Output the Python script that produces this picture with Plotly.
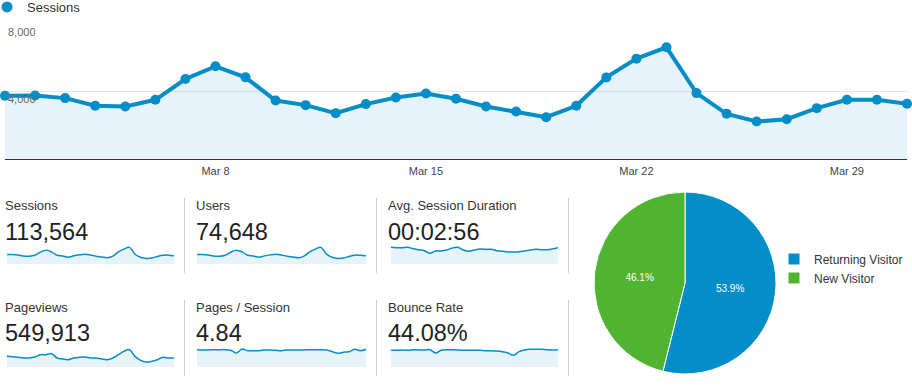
import pandas as pd
import plotly.graph_objects as go

W, H = 912, 388
FONT = "Arial, Liberation Sans, sans-serif"
BLUE = "#058dc7"
GREEN = "#50b432"

# ---------------- data ----------------
dates = pd.date_range("2015-03-01", "2015-03-31", freq="D")
sessions = [3761, 3779, 3622, 3164, 3124, 3522, 4758, 5512, 4856, 3480,
            3204, 2728, 3264, 3661, 3900, 3582, 3124, 2824, 2487, 3164,
            4854, 5970, 6645, 3920, 2687, 2228, 2368, 3025, 3522, 3522, 3284]
users = [2470, 2480, 2380, 2080, 2050, 2310, 3130, 3620, 3190, 2290,
         2100, 1790, 2140, 2400, 2560, 2350, 2050, 1860, 1630, 2080,
         3190, 3920, 4370, 2580, 1770, 1460, 1560, 1990, 2310, 2310, 2160]
pageviews = [19500, 19000, 17700, 16500, 16500, 18300, 22600, 22600, 24500, 16500,
             14700, 13400, 16500, 17700, 18300, 16500, 16500, 14700, 13400, 16500,
             22600, 28700, 31800, 19500, 12200, 9200, 10400, 13400, 17700, 16500, 16500]
pages_per_session = [4.84, 4.74, 4.74, 4.84, 4.84, 4.84, 4.65, 3.91, 5.02, 4.56,
                     4.56, 4.56, 4.74, 4.74, 4.65, 4.56, 4.74, 4.74, 4.74, 4.74,
                     4.84, 4.84, 4.84, 4.74, 4.28, 3.81, 4.09, 4.28, 4.93, 4.56, 4.93]
avg_duration = [205, 200, 200, 205, 188, 176, 164, 131, 160, 160,
                172, 196, 205, 172, 156, 172, 184, 180, 180, 164,
                156, 147, 147, 151, 160, 172, 180, 176, 176, 184, 200]
bounce_rate = [44.1, 44.1, 45.0, 44.1, 45.8, 45.0, 45.0, 45.8, 37.0, 44.1,
               45.8, 45.8, 45.0, 44.1, 44.1, 44.1, 44.1, 43.2, 43.2, 42.3,
               40.6, 37.0, 30.9, 40.6, 45.0, 46.7, 46.7, 46.7, 45.8, 45.0, 45.8]

y_tickvals = [4000, 8000]
y_ticktext = ["4,000", "8,000"]
x_tickvals = ["2015-03-08", "2015-03-15", "2015-03-22", "2015-03-29"]

metric_labels = ["Sessions", "Users", "Avg. Session Duration",
                 "Pageviews", "Pages / Session", "Bounce Rate"]
metric_values = ["113,564", "74,648", "00:02:56",
                 "549,913", "4.84", "44.08%"]
metric_series = [sessions, users, avg_duration,
                 pageviews, pages_per_session, bounce_rate]
metric_ymax = [8000, 5260, 246, 36700, 5.58, 52.9]

visitor_types = ["Returning Visitor", "New Visitor"]
visitor_share = [53.9, 46.1]

# ---------------- layout helpers (pixels -> paper) ----------------
def px(x):
    return x / W

def py(y):
    return 1 - y / H

fig = go.Figure()

# main sessions chart
fig.add_trace(go.Scatter(
    x=dates, y=sessions, mode="lines+markers", name="Sessions",
    line=dict(color=BLUE, width=4), marker=dict(color=BLUE, size=10),
    fill="tozeroy", fillcolor="rgba(5,141,199,0.10)",
    cliponaxis=False, showlegend=False, hoverinfo="x+y"))
# legend entry for the main chart
fig.add_trace(go.Scatter(
    x=[None], y=[None], mode="markers", name="Sessions",
    marker=dict(color=BLUE, size=11, symbol="circle"), legend="legend"))

layout = dict(
    width=W, height=H, margin=dict(l=0, r=0, t=0, b=0, pad=0, autoexpand=False),
    paper_bgcolor="white", plot_bgcolor="white",
    font=dict(family=FONT, color="#333"),
    xaxis=dict(domain=[px(5), px(907)], range=[dates[0], dates[-1]],
               showgrid=False, zeroline=False, showline=True,
               linecolor="#333", linewidth=1, ticks="",
               tickvals=x_tickvals, tickformat="%b %-d",
               tickfont=dict(size=11, color="#444"), ticklabelstandoff=2,
               fixedrange=True),
    yaxis=dict(domain=[py(159), py(24.5)], range=[0, 8000],
               tickvals=y_tickvals, ticktext=y_ticktext,
               showgrid=True, gridcolor="#e6e6e6", zeroline=False,
               ticklabelposition="inside bottom",
               tickfont=dict(size=11, color="#666"), fixedrange=True),
    legend=dict(x=-13 / W, y=py(7), xanchor="left", yanchor="middle",
                font=dict(size=13, color="#333"), bgcolor="rgba(0,0,0,0)"),
    legend2=dict(x=px(774), y=py(268.5), xanchor="left", yanchor="middle",
                 font=dict(size=12, color="#333"), bgcolor="rgba(0,0,0,0)",
                 tracegroupgap=0),
    showlegend=True,
)

# metric tiles
col_text_x = [3, 194, 386]
col_spark_x = [(7, 174), (197, 366), (391, 558)]
row_label_y = [205.5, 307.3]
row_value_y = [231.7, 333.3]
row_spark_y = [(244, 264), (347, 367)]

annotations = []
shapes = []
for i, (lab, val, ser, ymax) in enumerate(zip(metric_labels, metric_values,
                                              metric_series, metric_ymax)):
    r, c = divmod(i, 3)
    n = i + 2
    fig.add_trace(go.Scatter(
        x=dates, y=ser, mode="lines", line=dict(color=BLUE, width=1.5, shape="spline"),
        fill="tozeroy", fillcolor="rgba(5,141,199,0.10)", showlegend=False,
        xaxis=f"x{n}", yaxis=f"y{n}", hoverinfo="skip"))
    x0, x1 = col_spark_x[c]
    yt, yb = row_spark_y[r]
    layout[f"xaxis{n}"] = dict(domain=[px(x0), px(x1)], range=[dates[0], dates[-1]],
                               visible=False, anchor=f"y{n}", fixedrange=True)
    layout[f"yaxis{n}"] = dict(domain=[py(yb), py(yt)], range=[0, ymax],
                               visible=False, anchor=f"x{n}", fixedrange=True)
    annotations.append(dict(text=lab, x=px(col_text_x[c]), y=py(row_label_y[r]),
                            xref="paper", yref="paper", xanchor="left", yanchor="middle",
                            showarrow=False, font=dict(size=13, color="#333")))
    annotations.append(dict(text=val, x=px(col_text_x[c]), y=py(row_value_y[r]),
                            xref="paper", yref="paper", xanchor="left", yanchor="middle",
                            showarrow=False, font=dict(size=23.5, color="#222")))

# tile separators
for sx in [184.5, 376.5, 568.5]:
    for (sy0, sy1) in [(198, 273), (300, 376)]:
        shapes.append(dict(type="line", xref="paper", yref="paper",
                           x0=px(sx), x1=px(sx), y0=py(sy0), y1=py(sy1),
                           line=dict(color="#cccccc", width=1)))

# pie
fig.add_trace(go.Pie(
    labels=visitor_types, values=visitor_share, sort=False,
    direction="clockwise", rotation=0,
    marker=dict(colors=[BLUE, GREEN], line=dict(color="white", width=1)),
    textinfo="percent", texttemplate="%{percent:.1%}",
    textposition="inside", insidetextorientation="horizontal",
    insidetextfont=dict(size=10, color="white"),
    domain=dict(x=[px(594), px(776)], y=[py(374), py(192)]),
    legend="legend2", hoverinfo="label+percent"))

layout["annotations"] = annotations
layout["shapes"] = shapes
fig.update_layout(**layout)

fig.write_html("out.html", config={"displayModeBar": False},
               post_script="document.body.style.margin='0';")
